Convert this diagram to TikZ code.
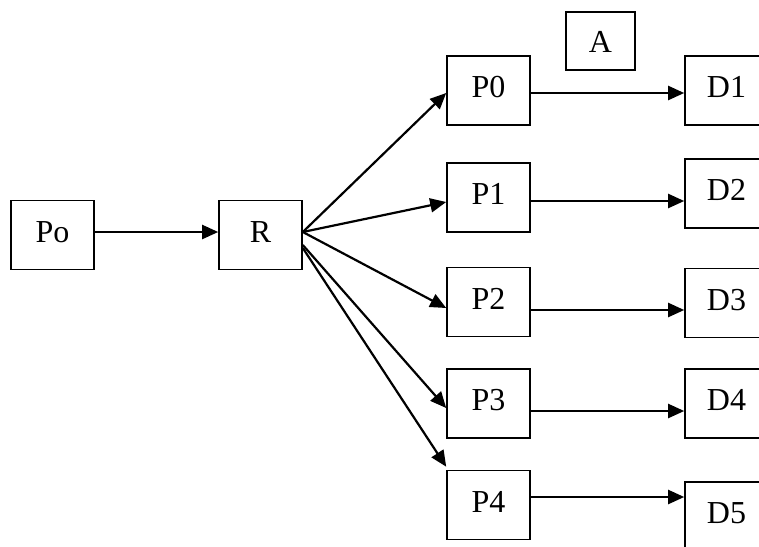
\documentclass[tikz,border=0pt]{standalone}
\usepackage{fontspec}
\setmainfont{Liberation Serif}
\usetikzlibrary{arrows.meta}
\begin{document}
\begin{tikzpicture}[x=1pt,y=-1pt,
  box/.style={draw=black,line width=1.6pt,minimum width=83pt,minimum height=69pt,inner sep=0pt,
    text height=22pt,text depth=8pt,font=\fontsize{32}{38}\selectfont},
  abox/.style={box,minimum width=69pt,minimum height=58pt,text depth=0pt},
  link/.style={line width=2.2pt,-{Triangle[length=16pt,width=14pt]}}]
\useasboundingbox (0,0) rectangle (759,546);
\fill[white] (0,0) rectangle (759,546);
\clip (0,0) rectangle (759,546);
\node[box] (Po) at (52.5,235) {Po};
\node[box] (R) at (260.5,235) {R};
\node[box] (P0) at (488.5,90.5) {P0};
\node[box] (P1) at (488.5,197.5) {P1};
\node[box] (P2) at (488.5,302) {P2};
\node[box] (P3) at (488.5,403.5) {P3};
\node[box] (P4) at (488.5,505) {P4};
\node[abox] (A) at (600.5,41) {A};
\node[box] (D1) at (726.5,90.5) {D1};
\node[box] (D2) at (726.5,193.5) {D2};
\node[box] (D3) at (726.5,303) {D3};
\node[box] (D4) at (726.5,403.5) {D4};
\node[box] (D5) at (726.5,516.5) {D5};
\draw[link] ([yshift=3pt]Po.east) -- ([yshift=3pt]R.west);
\draw[link] ([yshift=3pt]R.east) -- ([yshift=-2.5pt]P0.west);
\draw[link] ([yshift=3pt]R.east) -- ([yshift=-4.5pt]P1.west);
\draw[link] ([yshift=3pt]R.east) -- ([yshift=-6pt]P2.west);
\draw[link] ([yshift=-10pt]R.east) -- ([yshift=-4.5pt]P3.west);
\draw[link] ([yshift=-13pt]R.east) -- ([yshift=3pt]P4.north west);
\draw[link] ([yshift=-2.5pt]P0.east) -- ([yshift=-2.5pt]D1.west);
\draw[link] ([yshift=-3.5pt]P1.east) -- ([yshift=-7.5pt]D2.west);
\draw[link] ([yshift=-8pt]P2.east) -- ([yshift=-7pt]D3.west);
\draw[link] ([yshift=-7.5pt]P3.east) -- ([yshift=-7.5pt]D4.west);
\draw[link] ([yshift=8pt]P4.east) -- ([yshift=19.5pt]D5.west);
\end{tikzpicture}
\end{document}
